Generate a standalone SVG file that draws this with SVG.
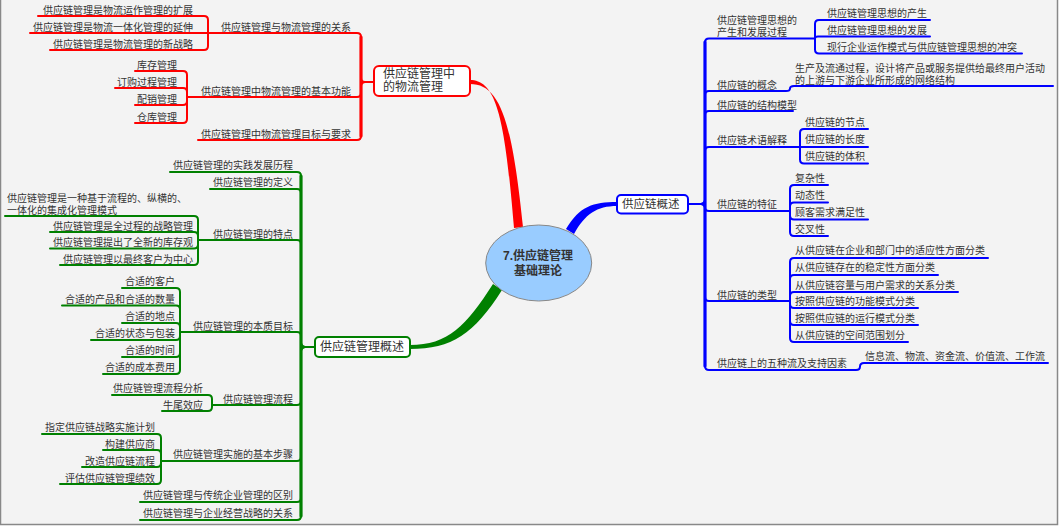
<svg xmlns="http://www.w3.org/2000/svg" width="1059" height="526" viewBox="0 0 1059 526">
<style>
text{font-family:"Liberation Sans","Noto Sans CJK SC",sans-serif;font-size:10px;fill:#333}
.e{text-anchor:end}
.m{font-size:12px}
.c{font-size:12px;font-weight:bold;text-anchor:middle}
.r,.g,.b{fill:none;stroke-width:2;stroke-linecap:round;stroke-linejoin:round}
.r{stroke:#f00}.g{stroke:#008000}.b{stroke:#00f}
.sp{stroke-width:3.2}
</style>
<rect x="0.5" y="-2" width="1057" height="526.5" fill="#f3f3f3" stroke="#888" stroke-width="1.5"/>
<g id="connectors">
<path d="M470 80 C497 80 505 120 514 228 L523 227 C512 120 500 84 470 84 Z" fill="#f00"/>
<path d="M410 345 C448 345 466 326 493 284 L502 290 C474 334 452 349 410 349 Z" fill="#008000"/>
<path d="M617 202 C593 202 580 206 566 229 L574 234 C585 214 597 206 617 206 Z" fill="#00f"/>
<g class="r">
<path class="sp" d="M361 37 V136"/>
<path d="M374 82 H365 Q361 82 361 78 V37 Q361 33 357 33 H208"/>
<path d="M374 82 H365 Q361 82 361 86 V93 Q361 97 357 97 H187"/>
<path d="M374 82 H365 Q361 82 361 86 V136 Q361 140 357 140 H198"/>
<path d="M208 33 V20 Q208 16 204 16 H38"/>
<path d="M208 33 H30"/>
<path d="M208 33 V46 Q208 50 204 50 H50"/>
<path d="M187 97 V75 Q187 71 183 71 H135"/>
<path d="M187 97 V92 Q187 88 183 88 H115"/>
<path d="M187 97 V101 Q187 105 183 105 H135"/>
<path d="M187 97 V119 Q187 123 183 123 H135"/>
</g>
<g class="g">
<path class="sp" d="M301 176 V516"/>
<path d="M315 347 H305 Q301 347 301 343 V176 Q301 172 297 172 H170"/>
<path d="M315 347 H305 Q301 347 301 343 V193 Q301 189 297 189 H210"/>
<path d="M315 347 H305 Q301 347 301 343 V244 Q301 240 297 240 H198"/>
<path d="M315 347 H305 Q301 347 301 343 V336 Q301 332 297 332 H180"/>
<path d="M315 347 H305 Q301 347 301 351 V401 Q301 405 297 405 H212"/>
<path d="M315 347 H305 Q301 347 301 351 V457 Q301 461 297 461 H161"/>
<path d="M315 347 H305 Q301 347 301 351 V498 Q301 502 297 502 H140"/>
<path d="M315 347 H305 Q301 347 301 351 V516 Q301 520 297 520 H140"/>
<path d="M198 240 V220 Q198 216 194 216 H5"/>
<path d="M198 240 V236 Q198 232 194 232 H50"/>
<path d="M198 240 V244.5 Q198 248.5 194 248.5 H50"/>
<path d="M198 240 V261 Q198 265 194 265 H60"/>
<path d="M180 332 V292 Q180 288 176 288 H122"/>
<path d="M180 332 V309.5 Q180 305.5 176 305.5 H62"/>
<path d="M180 332 V327 Q180 323 176 323 H122"/>
<path d="M180 332 V336 Q180 340 176 340 H91"/>
<path d="M180 332 V353 Q180 357 176 357 H122"/>
<path d="M180 332 V370 Q180 374 176 374 H103"/>
<path d="M212 405 V399 Q212 395 208 395 H112"/>
<path d="M212 405 V407 Q212 411 208 411 H162"/>
<path d="M161 461 V438 Q161 434 157 434 H42"/>
<path d="M161 461 V454 Q161 450 157 450 H103"/>
<path d="M161 461 V463 Q161 467 157 467 H82"/>
<path d="M161 461 V480 Q161 484 157 484 H60"/>
</g>
<g class="b">
<path class="sp" d="M705 42 V366"/>
<path d="M688 204 H701 Q705 204 705 200 V42.5 Q705 38.5 709 38.5 H815"/>
<path d="M688 204 H701 Q705 204 705 200 V95 Q705 91 709 91 H786 Q790 91 790 88.5 Q790 86 794 86 H1053"/>
<path d="M688 204 H701 Q705 204 705 200 V115 Q705 111 709 111 H793"/>
<path d="M688 204 H701 Q705 204 705 200 V151 Q705 147 709 147 H800"/>
<path d="M688 204 H701 Q705 204 705 207.5 Q705 211 709 211 H790"/>
<path d="M688 204 H701 Q705 204 705 208 V297 Q705 301 709 301 H790"/>
<path d="M688 204 H701 Q705 204 705 208 V366 Q705 370 709 370 H856 Q860 370 860 366.5 Q860 363 864 363 H1048"/>
<path d="M815 38.5 V24 Q815 20 819 20 H930"/>
<path d="M815 38.5 Q815 36.5 818 36.5 H930"/>
<path d="M815 38.5 V49.5 Q815 53.5 819 53.5 H1022"/>
<path d="M800 147 V133 Q800 129 804 129 H868"/>
<path d="M800 147 H868"/>
<path d="M800 147 V159.5 Q800 163.5 804 163.5 H868"/>
<path d="M790 211 V189 Q790 185 794 185 H828"/>
<path d="M790 211 V206.5 Q790 202.5 794 202.5 H828"/>
<path d="M790 211 V215.5 Q790 219.5 794 219.5 H868"/>
<path d="M790 211 V232 Q790 236 794 236 H828"/>
<path d="M790 301 V262 Q790 258 794 258 H988"/>
<path d="M790 301 V279 Q790 275 794 275 H938"/>
<path d="M790 301 V296 Q790 292 794 292 H958"/>
<path d="M790 301 V304 Q790 308 794 308 H918"/>
<path d="M790 301 V321 Q790 325 794 325 H918"/>
<path d="M790 301 V338 Q790 342 794 342 H908"/>
</g>
</g>
<g id="center">
<ellipse cx="538.7" cy="263" rx="53" ry="38" fill="#99ccff" stroke="#888" stroke-width="1"/>
<text class="c" x="538" y="259.5">7.供应链管理</text>
<text class="c" x="538" y="274.5">基础理论</text>
</g>
<g id="node-wuliu">
<rect x="374" y="66" width="96" height="30" rx="5" fill="#fff" stroke="#f00" stroke-width="2"/>
<text class="m" x="383" y="77.5">供应链管理中</text>
<text class="m" x="383" y="91">的物流管理</text>
</g>
<g id="node-gailan">
<rect x="315" y="337" width="95" height="20" rx="4" fill="#fff" stroke="#008000" stroke-width="2"/>
<text class="m" x="320" y="351">供应链管理概述</text>
</g>
<g id="node-lianGaishu">
<rect x="617" y="195" width="71" height="18.5" rx="4" fill="#fff" stroke="#00f" stroke-width="2"/>
<text class="m" x="622" y="208" style="font-size:11.5px">供应链概述</text>
</g>
<g id="red-topics">
<text class="e" x="351" y="30.5">供应链管理与物流管理的关系</text>
<text class="e" x="193" y="13.5">供应链管理是物流运作管理的扩展</text>
<text class="e" x="193" y="30.5">供应链管理是物流一体化管理的延伸</text>
<text class="e" x="193" y="47.5">供应链管理是物流管理的新战略</text>
<text class="e" x="351" y="94.5">供应链管理中物流管理的基本功能</text>
<text class="e" x="177" y="68.5">库存管理</text>
<text class="e" x="177" y="85.5">订购过程管理</text>
<text class="e" x="177" y="102.5">配销管理</text>
<text class="e" x="177" y="120.5">仓库管理</text>
<text class="e" x="351" y="137.5">供应链管理中物流管理目标与要求</text>
</g>
<g id="green-topics">
<text class="e" x="293" y="169">供应链管理的实践发展历程</text>
<text class="e" x="293" y="186">供应链管理的定义</text>
<text class="e" x="293" y="237.5">供应链管理的特点</text>
<text x="7" y="202.2">供应链管理是一种基于流程的、纵横的、</text>
<text x="7" y="213.6">一体化的集成化管理模式</text>
<text class="e" x="193" y="229.5">供应链管理是全过程的战略管理</text>
<text class="e" x="193" y="246">供应链管理提出了全新的库存观</text>
<text class="e" x="193" y="262.5">供应链管理以最终客户为中心</text>
<text class="e" x="293" y="329.5">供应链管理的本质目标</text>
<text class="e" x="175" y="285">合适的客户</text>
<text class="e" x="175" y="302.5">合适的产品和合适的数量</text>
<text class="e" x="175" y="320">合适的地点</text>
<text class="e" x="175" y="337">合适的状态与包装</text>
<text class="e" x="175" y="354">合适的时间</text>
<text class="e" x="175" y="371">合适的成本费用</text>
<text class="e" x="293" y="402.5">供应链管理流程</text>
<text class="e" x="203" y="392">供应链管理流程分析</text>
<text class="e" x="203" y="408.5">牛尾效应</text>
<text class="e" x="293" y="458">供应链管理实施的基本步骤</text>
<text class="e" x="155" y="431">指定供应链战略实施计划</text>
<text class="e" x="155" y="447.5">构建供应商</text>
<text class="e" x="155" y="464.5">改造供应链流程</text>
<text class="e" x="155" y="481.5">评估供应链管理绩效</text>
<text class="e" x="293" y="499">供应链管理与传统企业管理的区别</text>
<text class="e" x="293" y="516.5">供应链管理与企业经营战略的关系</text>
</g>
<g id="blue-topics">
<text x="717" y="24.2">供应链管理思想的</text>
<text x="717" y="35.6">产生和发展过程</text>
<text x="827" y="17">供应链管理思想的产生</text>
<text x="827" y="33.5">供应链管理思想的发展</text>
<text x="827" y="50.5">现行企业运作模式与供应链管理思想的冲突</text>
<text x="717" y="88.5">供应链的概念</text>
<text x="795" y="72.2">生产及流通过程，设计将产品或服务提供给最终用户活动</text>
<text x="795" y="83.6">的上游与下游企业所形成的网络结构</text>
<text x="717" y="109">供应链的结构模型</text>
<text x="717" y="144">供应链术语解释</text>
<text x="805" y="125.7">供应链的节点</text>
<text x="805" y="143">供应链的长度</text>
<text x="805" y="160">供应链的体积</text>
<text x="717" y="208">供应链的特征</text>
<text x="795" y="181.5">复杂性</text>
<text x="795" y="199">动态性</text>
<text x="795" y="216">顾客需求满足性</text>
<text x="795" y="232.7">交叉性</text>
<text x="717" y="298.5">供应链的类型</text>
<text x="795" y="254">从供应链在企业和部门中的适应性方面分类</text>
<text x="795" y="271">从供应链存在的稳定性方面分类</text>
<text x="795" y="288.5">从供应链容量与用户需求的关系分类</text>
<text x="795" y="305">按照供应链的功能模式分类</text>
<text x="795" y="322">按照供应链的运行模式分类</text>
<text x="795" y="339">从供应链的空间范围划分</text>
<text x="717" y="367">供应链上的五种流及支持因素</text>
<text x="865" y="360">信息流、物流、资金流、价值流、工作流</text>
</g>
</svg>
